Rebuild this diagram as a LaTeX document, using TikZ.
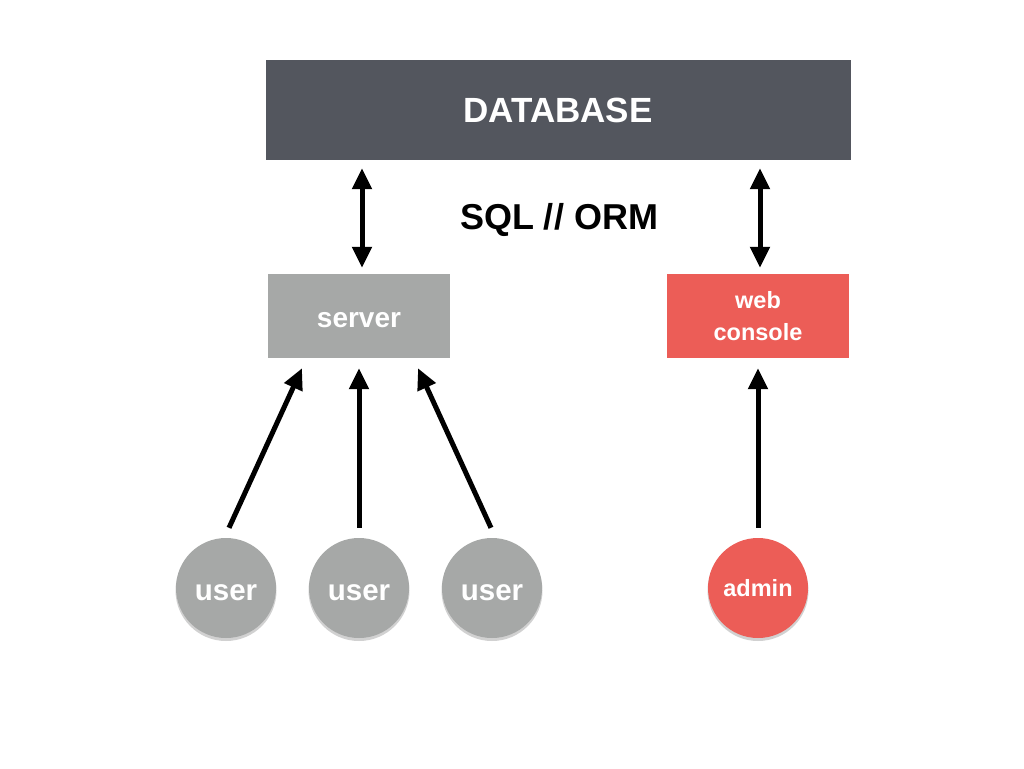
\documentclass[tikz,border=0pt]{standalone}
\usepackage{fontspec}
\setmainfont{Liberation Sans}
\usetikzlibrary{arrows.meta}
\definecolor{dbgray}{HTML}{53565E}
\definecolor{lgray}{HTML}{A6A8A7}
\definecolor{red1}{HTML}{EC5D57}
\tikzset{
  box/.style={draw=none, minimum width=182pt, minimum height=84pt, text=white, font=\bfseries, inner sep=0pt, align=center},
  circ/.style={circle, draw=none, minimum size=100pt, inner sep=0pt, text=white, font=\bfseries},
  arr/.style={line width=5pt, -{Triangle[length=21pt, width=19pt]}},
  darr/.style={line width=5pt, {Triangle[length=21pt, width=19pt]}-{Triangle[length=21pt, width=19pt]}},
}
\begin{document}
\begin{tikzpicture}[x=1pt,y=-1pt]
\useasboundingbox (0,0) rectangle (1024,768);
\fill[white] (0,0) rectangle (1024,768);
\node[box, fill=dbgray, minimum width=585pt, minimum height=100pt, font=\bfseries\fontsize{35}{40}\selectfont] (db) at (558,110) {DATABASE};
\node[box, fill=lgray, text height=22pt, text depth=0pt, font=\bfseries\fontsize{28}{32}\selectfont] (server) at (359,316) {server};
\node[box, fill=red1, font=\bfseries\fontsize{23.5}{32}\selectfont] (web) at (758,316) {web\\console};
\node[font=\bfseries\fontsize{36}{40}\selectfont] (sql) at (559,220) {SQL // ORM};
\foreach \n/\x in {u1/226,u2/359,u3/492}{
  \fill[black!18] (\x,590.5) circle (50.5pt);
  \node[circ, fill=lgray, text height=24pt, text depth=0pt, font=\bfseries\fontsize{29.5}{32}\selectfont] (\n) at (\x,588) {user};
}
\fill[black!18] (758,590.5) circle (50.5pt);
\node[circ, fill=red1, font=\bfseries\fontsize{23.5}{28}\selectfont] (admin) at (758,588) {admin};
\draw[darr] ([xshift=3pt,yshift=-8pt]server.north |- db.south) -- ([xshift=3pt,yshift=6pt]server.north);
\draw[darr] ([xshift=2pt,yshift=-8pt]web.north |- db.south) -- ([xshift=2pt,yshift=6pt]web.north);
\draw[arr] ([xshift=3pt,yshift=10pt]u1.north) -- ([xshift=-57pt,yshift=-10pt]server.south);
\draw[arr] ([yshift=10pt]u2.north) -- ([yshift=-10pt]server.south);
\draw[arr] ([xshift=-1pt,yshift=10pt]u3.north) -- ([xshift=59pt,yshift=-10pt]server.south);
\draw[arr] ([yshift=10pt]admin.north) -- ([yshift=-10pt]web.south);
\end{tikzpicture}
\end{document}
